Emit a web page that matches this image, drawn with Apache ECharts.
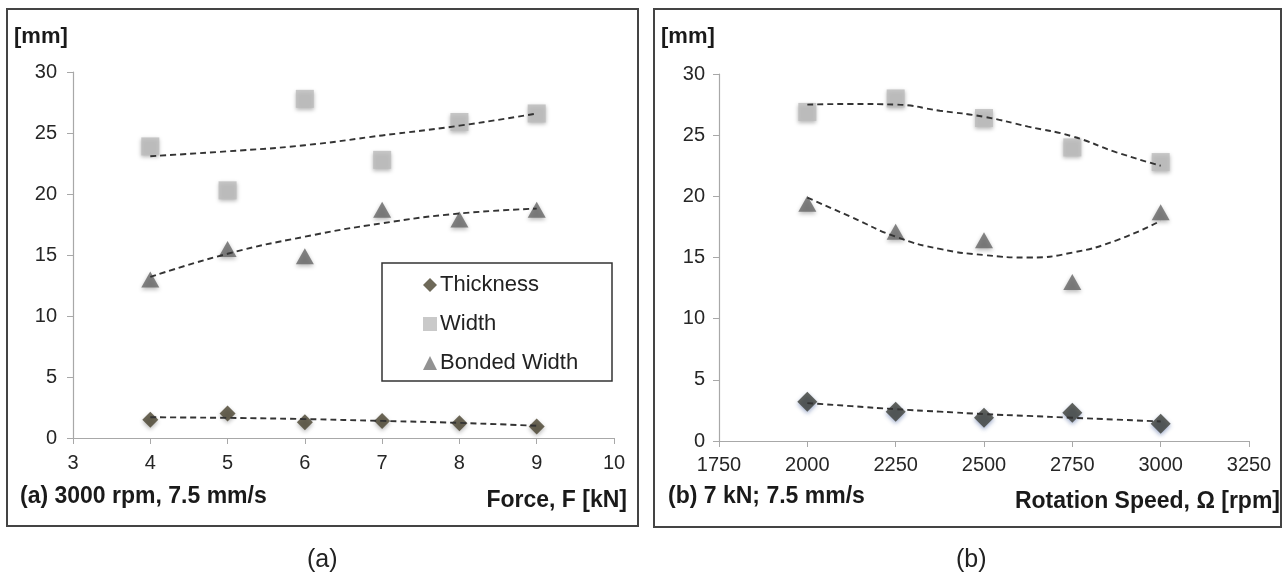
<!DOCTYPE html>
<html>
<head>
<meta charset="utf-8">
<script src="https://cdn.jsdelivr.net/npm/echarts@6/dist/echarts.min.js"></script>
<style>
html,body{margin:0;padding:0;background:#fff;}
#chart{width:1285px;height:576px;}
</style>
</head>
<body>
<div id="chart"></div>
<script>
// ---- Panel (a): Force ----
const forceX = [4, 5, 6, 7, 8, 9];
const aThickness = [1.5, 2.0, 1.3, 1.4, 1.2, 0.95];
const aWidth = [23.9, 20.3, 27.8, 22.8, 25.9, 26.6];
const aBonded = [13.0, 15.5, 14.9, 18.7, 17.9, 18.7];
const aThicknessTrend = [1.7, 1.65, 1.55, 1.4, 1.24, 1.0];
const aWidthTrend = [23.1, 23.5, 24.0, 24.8, 25.6, 26.6];
const aBondedTrend = [13.2, 15.1, 16.5, 17.6, 18.4, 18.8];

// ---- Panel (b): Rotation speed ----
const speedX = [2000, 2250, 2500, 2750, 3000];
const bThickness = [3.2, 2.4, 1.9, 2.3, 1.4];
const bWidth = [26.9, 28.0, 26.4, 24.0, 22.8];
const bBonded = [19.4, 17.1, 16.4, 13.0, 18.7];
const speedTrendX = [2000, 2125, 2250, 2375, 2500, 2625, 2750, 2875, 3000];
const bThicknessTrend = [3.1, 2.85, 2.6, 2.4, 2.2, 2.05, 1.9, 1.75, 1.6];
const bWidthTrend = [27.5, 27.55, 27.5, 27.0, 26.5, 25.7, 24.9, 23.6, 22.5];
const bBondedTrend = [19.9, 18.3, 16.7, 15.7, 15.2, 15.0, 15.4, 16.4, 18.0];

const forceTicks = [3, 10, 1];
const speedTicks = [1750, 3250, 250];
const yTicks = [0, 30, 5];

const seriesNames = ['Thickness', 'Width', 'Bonded Width'];

const FONT = 'Liberation Sans, Arial, sans-serif';
const pair = (xs, ys) => xs.map((x, i) => [x, ys[i]]);

function xAxisCfg(idx, t, margin) {
  return {
    type: 'value', gridIndex: idx, min: t[0], max: t[1], interval: t[2],
    axisLine: { show: true, onZero: false, lineStyle: { color: '#a8a8a8', width: 1.2 } },
    axisTick: { show: true, length: 6, lineStyle: { color: '#a8a8a8' } },
    axisLabel: { color: '#262626', fontSize: 20, fontFamily: FONT, margin: margin, formatter: v => String(v) },
    splitLine: { show: false }
  };
}
function yAxisCfg(idx, margin) {
  return {
    type: 'value', gridIndex: idx, min: yTicks[0], max: yTicks[1], interval: yTicks[2],
    axisLine: { show: true, lineStyle: { color: '#a8a8a8', width: 1.2 } },
    axisTick: { show: true, length: 6, lineStyle: { color: '#a8a8a8' } },
    axisLabel: { color: '#262626', fontSize: 20, fontFamily: FONT, margin: margin, formatter: v => String(v) },
    splitLine: { show: false }
  };
}
function scatter(name, idx, data, symbol, size, color, shadow) {
  return {
    name: name, type: 'scatter', xAxisIndex: idx, yAxisIndex: idx,
    data: data, symbol: symbol, symbolSize: size, z: 3,
    itemStyle: { color: color, shadowBlur: 4, shadowColor: shadow || 'rgba(0,0,0,0.35)', shadowOffsetY: 2 }
  };
}
function trend(idx, data) {
  return {
    type: 'line', xAxisIndex: idx, yAxisIndex: idx, data: data,
    smooth: 0.5, showSymbol: false, symbol: 'none', z: 5, silent: true,
    lineStyle: { color: '#333', width: 1.9, type: [6, 4] }
  };
}

const chart = echarts.init(document.getElementById('chart'), null, { renderer: 'canvas' });

const thickA = '#4a4430', thickB = '#3c3f38', widthC = '#bbbbbb', bondC = '#666666';

const option = {
  animation: false,
  backgroundColor: '#ffffff',
  grid: [
    { left: 73, top: 72, width: 541, height: 366 },
    { left: 719, top: 74, width: 530, height: 367 }
  ],
  xAxis: [xAxisCfg(0, forceTicks, 15), xAxisCfg(1, speedTicks, 14)],
  yAxis: [yAxisCfg(0, 16), yAxisCfg(1, 14)],
  legend: {
    data: [
      { name: seriesNames[0], icon: 'diamond', itemStyle: { color: thickA } },
      { name: seriesNames[1], icon: 'rect', itemStyle: { color: widthC } },
      { name: seriesNames[2], icon: 'triangle', itemStyle: { color: '#777' } }
    ],
    orient: 'vertical', left: 418, top: 269, itemGap: 17, itemWidth: 14, itemHeight: 14,
    selectedMode: false,
    textStyle: { color: '#222', fontSize: 22, fontFamily: FONT, lineHeight: 20, padding: [0, 0, 0, -2] }
  },
  series: [
    scatter(seriesNames[0], 0, pair(forceX, aThickness), 'diamond', 16, thickA),
    scatter(seriesNames[1], 0, pair(forceX, aWidth), 'rect', 18, widthC),
    scatter(seriesNames[2], 0, pair(forceX, aBonded), 'triangle', [18, 16], bondC),
    trend(0, pair(forceX, aThicknessTrend)),
    trend(0, pair(forceX, aWidthTrend)),
    trend(0, pair(forceX, aBondedTrend)),
    scatter(seriesNames[0], 1, pair(speedX, bThickness), 'diamond', 20, thickB, 'rgba(40,70,140,0.55)'),
    scatter(seriesNames[1], 1, pair(speedX, bWidth), 'rect', 18, widthC),
    scatter(seriesNames[2], 1, pair(speedX, bBonded), 'triangle', [18, 16], bondC),
    trend(1, pair(speedTrendX, bThicknessTrend)),
    trend(1, pair(speedTrendX, bWidthTrend)),
    trend(1, pair(speedTrendX, bBondedTrend))
  ],
  graphic: [
    { type: 'rect', shape: { x: 7, y: 9, width: 631, height: 517 }, style: { fill: 'none', stroke: '#444', lineWidth: 2 }, z: 0 },
    { type: 'rect', shape: { x: 654, y: 9, width: 627, height: 518 }, style: { fill: 'none', stroke: '#444', lineWidth: 2 }, z: 0 },
    { type: 'rect', shape: { x: 382, y: 263, width: 230, height: 118 }, style: { fill: '#fff', stroke: '#333', lineWidth: 1.5 }, z: 1 },
    { type: 'text', left: 14, top: 26, style: { text: '[mm]', font: 'bold 22px ' + FONT, fill: '#1a1a1a' } },
    { type: 'text', left: 661, top: 26, style: { text: '[mm]', font: 'bold 22px ' + FONT, fill: '#1a1a1a' } },
    { type: 'text', left: 20, top: 485, style: { text: '(a) 3000 rpm, 7.5 mm/s', font: 'bold 23px ' + FONT, fill: '#1a1a1a' } },
    { type: 'text', right: 1285 - 627, top: 489, style: { text: 'Force, F [kN]', font: 'bold 23px ' + FONT, fill: '#1a1a1a' } },
    { type: 'text', left: 668, top: 485, style: { text: '(b) 7 kN; 7.5 mm/s', font: 'bold 23px ' + FONT, fill: '#1a1a1a' } },
    { type: 'text', right: 5, top: 490, style: { text: 'Rotation Speed, Ω [rpm]', font: 'bold 23px ' + FONT, fill: '#1a1a1a' } },
    { type: 'text', left: 307, top: 548, style: { text: '(a)', font: '25px ' + FONT, fill: '#222' } },
    { type: 'text', left: 956, top: 548, style: { text: '(b)', font: '25px ' + FONT, fill: '#222' } }
  ]
};
chart.setOption(option);
</script>
</body>
</html>
